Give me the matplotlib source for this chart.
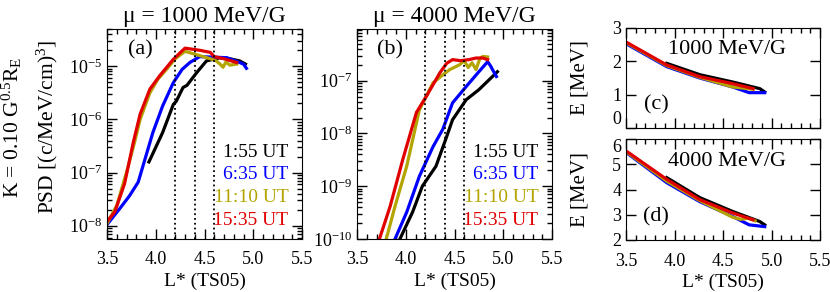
import matplotlib.pyplot as plt
from matplotlib.ticker import MultipleLocator, LogLocator, LogFormatterMathtext, NullFormatter
import numpy as np

plt.rcParams['font.family'] = ['Liberation Serif', 'DejaVu Serif']
plt.rcParams['mathtext.fontset'] = 'custom'
plt.rcParams['mathtext.rm'] = 'Liberation Serif'
plt.rcParams['mathtext.it'] = 'Liberation Serif:italic'
plt.rcParams['mathtext.bf'] = 'Liberation Serif:bold'

# times and colours
times = ['1:55 UT', '6:35 UT', '11:10 UT', '15:35 UT']
colors = ['black', '#0000ff', '#b4a400', '#e00000']
dotted_L = [4.2, 4.4, 4.6]

# PSD, mu = 1000 MeV/G (log10 values)
L_a_155 = [3.93, 4.07, 4.18, 4.21, 4.28, 4.32, 4.42, 4.52, 4.66, 4.76, 4.86, 4.92]
psd_a_155 = [-6.80, -6.25, -5.72, -5.66, -5.40, -5.36, -5.12, -4.90, -4.84, -4.86, -4.90, -4.96]
L_a_635 = [3.50, 3.63, 3.73, 3.82, 3.87, 3.97, 4.07, 4.18, 4.27, 4.35, 4.45, 4.60, 4.73, 4.86, 4.90, 4.93]
psd_a_635 = [-7.98, -7.68, -7.44, -7.18, -6.87, -6.25, -5.75, -5.31, -5.06, -4.93, -4.82, -4.83, -4.84, -4.93, -4.96, -5.04]
L_a_1110 = [3.50, 3.60, 3.70, 3.78, 3.84, 3.94, 4.02, 4.11, 4.20, 4.30, 4.45, 4.56, 4.62, 4.66, 4.69, 4.72, 4.76, 4.83]
psd_a_1110 = [-7.96, -7.62, -7.00, -6.45, -6.00, -5.50, -5.25, -5.06, -4.86, -4.72, -4.80, -4.86, -4.90, -4.96, -5.02, -4.92, -4.98, -4.96]
L_a_1535 = [3.50, 3.58, 3.68, 3.77, 3.84, 3.94, 4.04, 4.18, 4.30, 4.45, 4.56, 4.60, 4.70, 4.83]
psd_a_1535 = [-7.92, -7.74, -7.21, -6.43, -5.90, -5.43, -5.18, -4.87, -4.66, -4.70, -4.74, -4.82, -4.86, -4.93]

# PSD, mu = 4000 MeV/G (log10 values)
L_b_155 = [3.94, 4.07, 4.17, 4.31, 4.41, 4.48, 4.62, 4.75, 4.89, 4.94]
psd_b_155 = [-10.0, -9.49, -9.00, -8.62, -8.11, -7.74, -7.36, -7.17, -6.92, -6.83]
L_b_635 = [3.89, 4.01, 4.14, 4.28, 4.38, 4.48, 4.62, 4.75, 4.84, 4.87, 4.89, 4.93]
psd_b_635 = [-10.0, -9.49, -8.81, -8.25, -7.92, -7.42, -7.11, -6.83, -6.64, -6.72, -6.79, -6.92]
L_b_1110 = [3.80, 3.89, 4.01, 4.14, 4.28, 4.38, 4.45, 4.55, 4.60, 4.64, 4.68, 4.72, 4.76, 4.79, 4.84]
psd_b_1110 = [-10.0, -9.38, -8.62, -7.55, -7.04, -6.89, -6.79, -6.70, -6.62, -6.75, -6.66, -6.79, -6.58, -6.54, -6.55]
L_b_1535 = [3.73, 3.84, 3.97, 4.11, 4.21, 4.35, 4.42, 4.48, 4.56, 4.65, 4.72, 4.79, 4.84]
psd_b_1535 = [-10.0, -9.38, -8.49, -7.60, -7.30, -6.85, -6.67, -6.60, -6.62, -6.60, -6.57, -6.57, -6.60]

# Energy, mu = 1000 MeV/G
L_c_155 = [3.92, 4.26, 4.60, 4.88, 4.93]
E_c_155 = [1.94, 1.60, 1.38, 1.18, 1.08]
L_c_635 = [3.50, 3.92, 4.26, 4.60, 4.77, 4.93]
E_c_635 = [2.53, 1.84, 1.50, 1.23, 1.06, 1.06]
L_c_1110 = [3.50, 3.92, 4.26, 4.60, 4.70, 4.81]
E_c_1110 = [2.56, 1.87, 1.52, 1.23, 1.20, 1.16]
L_c_1535 = [3.50, 3.92, 4.26, 4.60, 4.81]
E_c_1535 = [2.58, 1.89, 1.54, 1.33, 1.18]

# Energy, mu = 4000 MeV/G
L_d_155 = [3.92, 4.26, 4.60, 4.88, 4.93]
E_d_155 = [4.47, 3.68, 3.13, 2.73, 2.60]
L_d_635 = [3.50, 3.92, 4.26, 4.60, 4.77, 4.93]
E_d_635 = [5.47, 4.27, 3.52, 2.93, 2.60, 2.53]
L_d_1110 = [3.50, 3.92, 4.26, 4.60, 4.68, 4.76, 4.83]
E_d_1110 = [5.50, 4.33, 3.56, 2.90, 2.82, 2.86, 2.76]
L_d_1535 = [3.50, 3.92, 4.26, 4.60, 4.81]
E_d_1535 = [5.53, 4.40, 3.60, 3.07, 2.80]

W, H = 830, 292
fig = plt.figure(figsize=(W / 100, H / 100), dpi=100)


def box(l, r, t, b):
    return [l / W, (H - b) / H, (r - l) / W, (b - t) / H]


ax_a = fig.add_axes(box(107, 302, 29, 239))
ax_b = fig.add_axes(box(357, 552, 29, 239))
ax_c = fig.add_axes(box(626, 820, 28, 128))
ax_d = fig.add_axes(box(626, 820, 139, 240))


def style(ax, xlabels=True):
    ax.set_xlim(3.5, 5.5)
    ax.xaxis.set_major_locator(MultipleLocator(0.5))
    ax.xaxis.set_minor_locator(MultipleLocator(0.1))
    ax.xaxis.set_major_formatter(plt.FuncFormatter(lambda v, p: '%.1f' % v))
    ax.tick_params(which='both', direction='in', top=True, right=True, labelsize=13)
    ax.tick_params(which='major', length=7, width=1)
    ax.tick_params(which='minor', length=3.5, width=1)
    ax.tick_params(axis='x', which='major', pad=9)
    if xlabels:
        ax.set_xlabel('L* (TS05)', fontsize=14, labelpad=3)
    else:
        ax.tick_params(labelbottom=False)


psd_sets = [
    (ax_a, [(L_a_155, psd_a_155), (L_a_635, psd_a_635), (L_a_1110, psd_a_1110), (L_a_1535, psd_a_1535)],
     (10**-8.25, 10**-4.3), '(a)', 'μ = 1000 MeV/G'),
    (ax_b, [(L_b_155, psd_b_155), (L_b_635, psd_b_635), (L_b_1110, psd_b_1110), (L_b_1535, psd_b_1535)],
     (1e-10, 10**-6.02), '(b)', 'μ = 4000 MeV/G'),
]

for ax, curves, ylim, tag, title in psd_sets:
    for (L, p), c in zip(curves, colors):
        ax.plot(L, 10 ** np.array(p), color=c, lw=2.3)
    for x in dotted_L:
        ax.axvline(x, color='black', ls=':', lw=1.3)
    ax.set_yscale('log')
    ax.set_ylim(*ylim)
    ax.yaxis.set_major_locator(LogLocator(base=10, numticks=20))
    ax.yaxis.set_minor_locator(LogLocator(base=10, subs=np.arange(2, 10), numticks=20))
    ax.yaxis.set_major_formatter(LogFormatterMathtext())
    ax.yaxis.set_minor_formatter(NullFormatter())
    style(ax)
    ax.text(0.17, 0.90, tag, transform=ax.transAxes, fontsize=16, ha='center', va='center')
    ax.set_title(title, fontsize=17, pad=5)
    for i, (t, c) in enumerate(zip(times, colors)):
        ax.text(0.93, 0.414 - i * 0.108, t, color=c, transform=ax.transAxes,
                fontsize=14, ha='right', va='center')

energy_sets = [
    (ax_c, [(L_c_155, E_c_155), (L_c_635, E_c_635), (L_c_1110, E_c_1110), (L_c_1535, E_c_1535)],
     (0, 3), '(c)', '1000 MeV/G', False),
    (ax_d, [(L_d_155, E_d_155), (L_d_635, E_d_635), (L_d_1110, E_d_1110), (L_d_1535, E_d_1535)],
     (2, 6), '(d)', '4000 MeV/G', True),
]

for ax, curves, ylim, tag, title, xl in energy_sets:
    for (L, e), c in zip(curves, colors):
        ax.plot(L, e, color=c, lw=2.3)
    ax.set_ylim(*ylim)
    ax.yaxis.set_major_locator(MultipleLocator(1))
    style(ax, xl)
    ax.tick_params(axis='y', which='minor', left=False, right=False)
    ax.set_ylabel('E [MeV]', fontsize=15)
    ax.yaxis.set_label_coords(-0.19, 0.5)
    ax.text(0.155, 0.23, tag, transform=ax.transAxes, fontsize=16, ha='center', va='center')
    ax.text(0.52, 0.78, title, transform=ax.transAxes, fontsize=16, ha='center', va='center')

# keep the edge labels of (c) and (d) inside their own axes
fig.canvas.draw()
for lab in ax_c.get_yticklabels():
    if lab.get_text() == '0':
        lab.set_va('bottom')
for lab in ax_d.get_yticklabels():
    if lab.get_text() == '6':
        lab.set_va('top')

fig.text(12 / W, 1 - 127 / H, r'K = 0.10 G$^{0.5}$R$_\mathrm{E}$', rotation=90,
         fontsize=15.5, ha='center', va='center')
fig.text(47 / W, 1 - 127 / H, r'PSD [(c/MeV/cm)$^3$]', rotation=90,
         fontsize=15.5, ha='center', va='center')

fig.savefig('out.png', dpi=100)
